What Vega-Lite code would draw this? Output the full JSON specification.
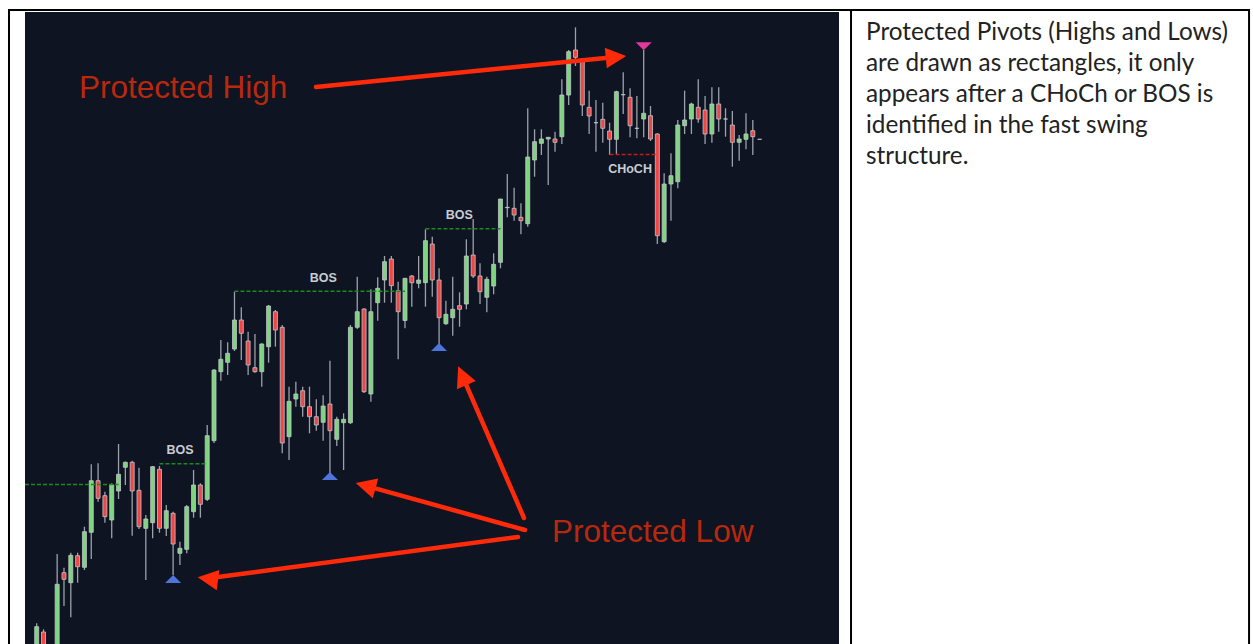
{
  "$schema": "https://vega.github.io/schema/vega-lite/v6.json",
  "width": 1253,
  "height": 644,
  "autosize": "none",
  "padding": 0,
  "background": "#ffffff",
  "config": {"view": {"stroke": null}},
  "datasets": {
    "panel": [{"x": -1.716, "x2": 117.64, "y": 0, "y2": 632}],
    "frame": [
      {"x": -4.062, "x2": 177.76, "y": 634, "y2": 634},
      {"x": -4.062, "x2": -4.062, "y": 635, "y2": -10},
      {"x": 119.4, "x2": 119.4, "y": 635, "y2": -10},
      {"x": 177.76, "x2": 177.76, "y": 635, "y2": -10}
    ],
    "candles": [
      {"t": 0, "o": -5, "h": 20.7, "l": -10, "c": 17.3},
      {"t": 1, "o": 12, "h": 14.7, "l": -10, "c": -5},
      {"t": 3, "o": -5, "h": 90, "l": -10, "c": 59.7},
      {"t": 4, "o": 71.3, "h": 76.3, "l": 38, "c": 64.7},
      {"t": 5, "o": 61.3, "h": 91.3, "l": 26.7, "c": 88.7},
      {"t": 6, "o": 88.3, "h": 91.3, "l": 61.3, "c": 77.3},
      {"t": 7, "o": 76.7, "h": 117.3, "l": 74, "c": 112.3},
      {"t": 8, "o": 111.7, "h": 179.7, "l": 85, "c": 163.3},
      {"t": 9, "o": 163.3, "h": 180.7, "l": 142.3, "c": 145.7},
      {"t": 10, "o": 148.3, "h": 152.3, "l": 121.3, "c": 127.3},
      {"t": 11, "o": 124, "h": 160.7, "l": 105.7, "c": 159},
      {"t": 12, "o": 153, "h": 200, "l": 145, "c": 169.7},
      {"t": 13, "o": 176.7, "h": 182.5, "l": 159, "c": 181.7},
      {"t": 14, "o": 181.7, "h": 183.3, "l": 108.3, "c": 153},
      {"t": 15, "o": 153.7, "h": 176.3, "l": 115, "c": 117.3},
      {"t": 16, "o": 115.7, "h": 129, "l": 64, "c": 125},
      {"t": 17, "o": 121.3, "h": 178, "l": 105.7, "c": 177.3},
      {"t": 18, "o": 174.7, "h": 178, "l": 111.3, "c": 115.7},
      {"t": 19, "o": 115.7, "h": 139, "l": 108, "c": 133.3},
      {"t": 20, "o": 130.7, "h": 132.3, "l": 69, "c": 100},
      {"t": 21, "o": 90.7, "h": 102.3, "l": 79, "c": 95.7},
      {"t": 22, "o": 94.7, "h": 139, "l": 90.7, "c": 137.3},
      {"t": 23, "o": 132.3, "h": 174, "l": 126.3, "c": 159},
      {"t": 24, "o": 159, "h": 160.7, "l": 126.3, "c": 139.7},
      {"t": 25, "o": 144.7, "h": 219, "l": 143, "c": 208.3},
      {"t": 26, "o": 203.3, "h": 274.7, "l": 201, "c": 274},
      {"t": 27, "o": 272.3, "h": 304, "l": 263.3, "c": 284.7},
      {"t": 28, "o": 281.7, "h": 301.7, "l": 269, "c": 290.7},
      {"t": 29, "o": 295, "h": 352.3, "l": 293, "c": 324},
      {"t": 30, "o": 324, "h": 336.7, "l": 284, "c": 310.7},
      {"t": 31, "o": 303, "h": 312.3, "l": 269, "c": 279},
      {"t": 32, "o": 276.3, "h": 310, "l": 271.3, "c": 272.3},
      {"t": 33, "o": 272.3, "h": 300.7, "l": 257.3, "c": 300},
      {"t": 34, "o": 297.3, "h": 339, "l": 281.3, "c": 338},
      {"t": 35, "o": 332.3, "h": 334, "l": 297.3, "c": 314},
      {"t": 36, "o": 316.7, "h": 319, "l": 190.7, "c": 201},
      {"t": 37, "o": 207.3, "h": 257.3, "l": 184, "c": 242.7},
      {"t": 38, "o": 245, "h": 262.3, "l": 237.3, "c": 250},
      {"t": 39, "o": 253.3, "h": 257.3, "l": 227.3, "c": 237.3},
      {"t": 40, "o": 237.3, "h": 257.3, "l": 210.7, "c": 227.3},
      {"t": 41, "o": 227.3, "h": 244.7, "l": 213.3, "c": 219},
      {"t": 42, "o": 221.7, "h": 248.7, "l": 203.3, "c": 238},
      {"t": 43, "o": 240, "h": 283.3, "l": 170.7, "c": 213.3},
      {"t": 44, "o": 204.7, "h": 227.3, "l": 198, "c": 224.7},
      {"t": 45, "o": 221.3, "h": 230.7, "l": 174, "c": 224.7},
      {"t": 46, "o": 221.3, "h": 319, "l": 220, "c": 316.7},
      {"t": 47, "o": 316.7, "h": 367.3, "l": 315, "c": 332.3},
      {"t": 48, "o": 335, "h": 335.7, "l": 251, "c": 252.3},
      {"t": 49, "o": 250, "h": 354.7, "l": 242.3, "c": 332.3},
      {"t": 50, "o": 341.3, "h": 366.7, "l": 323.3, "c": 355.7},
      {"t": 51, "o": 364, "h": 388, "l": 341.3, "c": 382.3},
      {"t": 52, "o": 385, "h": 388, "l": 341.3, "c": 358.3},
      {"t": 53, "o": 353.3, "h": 362.3, "l": 284.7, "c": 332.3},
      {"t": 54, "o": 323.5, "h": 366, "l": 315.7, "c": 365.7},
      {"t": 55, "o": 368, "h": 369, "l": 337.3, "c": 361.3},
      {"t": 56, "o": 360.7, "h": 388, "l": 355.7, "c": 364},
      {"t": 57, "o": 361.3, "h": 414.7, "l": 337.3, "c": 403.3},
      {"t": 58, "o": 400, "h": 407.3, "l": 347.3, "c": 364},
      {"t": 59, "o": 364, "h": 375.7, "l": 299, "c": 326.3},
      {"t": 60, "o": 320.3, "h": 343.3, "l": 319, "c": 329.7},
      {"t": 61, "o": 326.3, "h": 367.3, "l": 308.3, "c": 334.7},
      {"t": 62, "o": 338.3, "h": 351.7, "l": 317.3, "c": 334.7},
      {"t": 63, "o": 340, "h": 404.7, "l": 334.7, "c": 388},
      {"t": 64, "o": 389, "h": 425, "l": 366, "c": 368},
      {"t": 65, "o": 368, "h": 380.7, "l": 340, "c": 352.3},
      {"t": 66, "o": 346.7, "h": 367.3, "l": 331.7, "c": 364.7},
      {"t": 67, "o": 358, "h": 390.7, "l": 349.7, "c": 379.7},
      {"t": 68, "o": 381.7, "h": 445, "l": 375.7, "c": 445},
      {"t": 69, "o": 436.3, "h": 470, "l": 426.7, "c": 436.7},
      {"t": 70, "o": 435.7, "h": 456.3, "l": 423.3, "c": 429},
      {"t": 71, "o": 426.7, "h": 440.7, "l": 409.7, "c": 423.3},
      {"t": 72, "o": 420.3, "h": 535.7, "l": 417.3, "c": 487},
      {"t": 73, "o": 484, "h": 514.7, "l": 467.3, "c": 502.3},
      {"t": 74, "o": 500.7, "h": 514.7, "l": 489, "c": 505},
      {"t": 75, "o": 505, "h": 506.7, "l": 459, "c": 506.7},
      {"t": 76, "o": 505, "h": 512.3, "l": 492.3, "c": 501.7},
      {"t": 77, "o": 507.3, "h": 564.7, "l": 500, "c": 549},
      {"t": 78, "o": 549, "h": 594, "l": 539, "c": 592.3},
      {"t": 79, "o": 594, "h": 616.7, "l": 578, "c": 586.7},
      {"t": 80, "o": 585, "h": 585.7, "l": 528, "c": 539},
      {"t": 81, "o": 536.7, "h": 553.3, "l": 510, "c": 528},
      {"t": 82, "o": 521.3, "h": 544, "l": 492.3, "c": 521.3},
      {"t": 83, "o": 524.7, "h": 541.3, "l": 501.3, "c": 515.7},
      {"t": 84, "o": 513, "h": 521.3, "l": 489, "c": 504.7},
      {"t": 85, "o": 504.7, "h": 553.3, "l": 490, "c": 552.3},
      {"t": 86, "o": 549.3, "h": 571.7, "l": 530, "c": 549.3},
      {"t": 87, "o": 546.7, "h": 555.7, "l": 506.7, "c": 518.3},
      {"t": 88, "o": 515.7, "h": 548, "l": 505.7, "c": 515.7},
      {"t": 89, "o": 525, "h": 594, "l": 506.7, "c": 530.7},
      {"t": 90, "o": 528.3, "h": 538, "l": 503, "c": 505},
      {"t": 91, "o": 510, "h": 510.7, "l": 400, "c": 408.3},
      {"t": 92, "o": 402.3, "h": 470.7, "l": 401, "c": 460},
      {"t": 93, "o": 460, "h": 490.7, "l": 423.3, "c": 468.3},
      {"t": 94, "o": 462.3, "h": 524, "l": 455.7, "c": 519},
      {"t": 95, "o": 518.3, "h": 553.3, "l": 510, "c": 524},
      {"t": 96, "o": 525, "h": 541.3, "l": 510, "c": 540},
      {"t": 97, "o": 536.7, "h": 564.7, "l": 521.3, "c": 525},
      {"t": 98, "o": 534, "h": 548, "l": 500, "c": 510},
      {"t": 99, "o": 510, "h": 556.7, "l": 501.3, "c": 540},
      {"t": 100, "o": 540, "h": 556.7, "l": 512.3, "c": 525},
      {"t": 101, "o": 525, "h": 535.7, "l": 507.3, "c": 525},
      {"t": 102, "o": 519, "h": 533, "l": 477.3, "c": 501.7},
      {"t": 103, "o": 501.7, "h": 509, "l": 483.3, "c": 505},
      {"t": 104, "o": 504.7, "h": 530.7, "l": 494.7, "c": 510},
      {"t": 105, "o": 513.3, "h": 524, "l": 489, "c": 507.3},
      {"t": 106, "o": 504.7, "h": 504.7, "l": 504.7, "c": 504.7}
    ],
    "levels": [
      {"x": -1.716, "x2": 12, "y": 159.5, "kind": "BOS"},
      {"x": 18, "x2": 25, "y": 180.3, "kind": "BOS"},
      {"x": 29, "x2": 54, "y": 352.7, "kind": "BOS"},
      {"x": 57, "x2": 68, "y": 415.2, "kind": "BOS"},
      {"x": 84, "x2": 91, "y": 489.5, "kind": "CHoCH"}
    ],
    "labels": [
      {"x": 21.03, "y": 193.7, "text": "BOS"},
      {"x": 42.02, "y": 366.3, "text": "BOS"},
      {"x": 61.96, "y": 429, "text": "BOS"},
      {"x": 87.0, "y": 475, "text": "CHoCH"}
    ],
    "pivots": [
      {"x": 20, "y": 65, "kind": "low"},
      {"x": 43, "y": 168, "kind": "low"},
      {"x": 59, "y": 297, "kind": "low"},
      {"x": 89, "y": 597.7, "kind": "high"}
    ],
    "arrows": [
      {"x": 40.95, "y": 557, "x2": 83.77, "y2": 586.2},
      {"x": 70.57, "y": 107, "x2": 26.29, "y2": 66.7},
      {"x": 71.6, "y": 114, "x2": 49.37, "y2": 156.2},
      {"x": 71.45, "y": 126, "x2": 62.87, "y2": 260.9}
    ],
    "heads": [
      {"x": 84.94, "y": 587.0, "angle": 84.3},
      {"x": 25.1, "y": 65.3, "angle": 277.5},
      {"x": 48.23, "y": 158.3, "angle": 285.5},
      {"x": 62.4, "y": 268.3, "angle": 336.5}
    ],
    "notes": [
      {"x": 6.2, "y": 546, "text": "Protected High"},
      {"x": 75.56, "y": 102.5, "text": "Protected Low"}
    ],
    "para": [
      {"x": 121.6, "y": 604, "text": "Protected Pivots (Highs and Lows)"},
      {"x": 121.6, "y": 573, "text": "are drawn as rectangles, it only"},
      {"x": 121.6, "y": 542, "text": "appears after a CHoCh or BOS is"},
      {"x": 121.6, "y": 511, "text": "identified in the fast swing"},
      {"x": 121.6, "y": 480, "text": "structure."}
    ]
  },
  "layer": [
    {
      "data": {"name": "panel"},
      "mark": {"type": "rect", "fill": "#0e1421"},
      "encoding": {
        "x": {"field": "x", "type": "quantitative", "scale": {"domain": [-5.381, 178.34], "nice": false, "zero": false, "padding": 0}, "axis": null},
        "x2": {"field": "x2"},
        "y": {"field": "y", "type": "quantitative", "scale": {"domain": [0, 644], "nice": false, "zero": false, "padding": 0}, "axis": null},
        "y2": {"field": "y2"}
      }
    },
    {
      "data": {"name": "frame"},
      "mark": {"type": "rule", "color": "#000000", "strokeWidth": 2},
      "encoding": {
        "x": {"field": "x", "type": "quantitative"},
        "x2": {"field": "x2"},
        "y": {"field": "y", "type": "quantitative"},
        "y2": {"field": "y2"}
      }
    },
    {
      "data": {"name": "candles"},
      "mark": {"type": "rule", "color": "#9ca1ab", "strokeWidth": 1.3},
      "encoding": {
        "x": {"field": "t", "type": "quantitative"},
        "y": {"field": "l", "type": "quantitative"},
        "y2": {"field": "h"}
      }
    },
    {
      "data": {"name": "candles"},
      "mark": {"type": "bar", "width": 4, "orient": "vertical", "stroke": "#c2c5cc", "strokeWidth": 0.8},
      "encoding": {
        "x": {"field": "t", "type": "quantitative"},
        "y": {"field": "o", "type": "quantitative"},
        "y2": {"field": "c"},
        "fill": {"condition": {"test": "datum.c >= datum.o", "value": "#7dd67d"}, "value": "#f04646"}
      }
    },
    {
      "data": {"name": "levels"},
      "mark": {"type": "rule", "strokeWidth": 1.5, "strokeDash": [4, 2]},
      "encoding": {
        "x": {"field": "x", "type": "quantitative"},
        "x2": {"field": "x2"},
        "y": {"field": "y", "type": "quantitative"},
        "color": {"field": "kind", "type": "nominal", "scale": {"domain": ["BOS", "CHoCH"], "range": ["#1c8a1c", "#c41c1c"]}, "legend": null}
      }
    },
    {
      "data": {"name": "labels"},
      "mark": {"type": "text", "font": "Liberation Sans", "fontWeight": "bold", "fontSize": 12.5, "color": "#c9ccd3", "align": "center", "baseline": "middle"},
      "encoding": {
        "x": {"field": "x", "type": "quantitative"},
        "y": {"field": "y", "type": "quantitative"},
        "text": {"field": "text"}
      }
    },
    {
      "data": {"name": "pivots"},
      "transform": [{"filter": "datum.kind == 'low'"}],
      "mark": {"type": "point", "filled": true, "opacity": 1, "strokeWidth": 0, "size": 256, "color": "#4f74dc", "shape": "M-1,0.5L1,0.5L0,-0.5Z"},
      "encoding": {
        "x": {"field": "x", "type": "quantitative"},
        "y": {"field": "y", "type": "quantitative"}
      }
    },
    {
      "data": {"name": "pivots"},
      "transform": [{"filter": "datum.kind == 'high'"}],
      "mark": {"type": "point", "filled": true, "opacity": 1, "strokeWidth": 0, "size": 256, "color": "#e6389c", "shape": "M-1,-0.5L1,-0.5L0,0.5Z"},
      "encoding": {
        "x": {"field": "x", "type": "quantitative"},
        "y": {"field": "y", "type": "quantitative"}
      }
    },
    {
      "data": {"name": "arrows"},
      "mark": {"type": "rule", "color": "#ff2a0a", "strokeWidth": 4.5, "strokeCap": "round"},
      "encoding": {
        "x": {"field": "x", "type": "quantitative"},
        "x2": {"field": "x2"},
        "y": {"field": "y", "type": "quantitative"},
        "y2": {"field": "y2"}
      }
    },
    {
      "data": {"name": "heads"},
      "mark": {"type": "point", "filled": true, "opacity": 1, "strokeWidth": 0, "size": 420, "color": "#ff2a0a", "shape": "M0,-1L1,1L-1,1Z"},
      "encoding": {
        "x": {"field": "x", "type": "quantitative"},
        "y": {"field": "y", "type": "quantitative"},
        "angle": {"field": "angle", "type": "quantitative", "scale": null}
      }
    },
    {
      "data": {"name": "notes"},
      "mark": {"type": "text", "font": "Liberation Sans", "fontSize": 31.5, "color": "#b8280e", "align": "left", "baseline": "alphabetic"},
      "encoding": {
        "x": {"field": "x", "type": "quantitative"},
        "y": {"field": "y", "type": "quantitative"},
        "text": {"field": "text"}
      }
    },
    {
      "data": {"name": "para"},
      "mark": {"type": "text", "font": "Lato", "fontSize": 24.3, "color": "#222222", "align": "left", "baseline": "alphabetic"},
      "encoding": {
        "x": {"field": "x", "type": "quantitative"},
        "y": {"field": "y", "type": "quantitative"},
        "text": {"field": "text"}
      }
    }
  ]
}
